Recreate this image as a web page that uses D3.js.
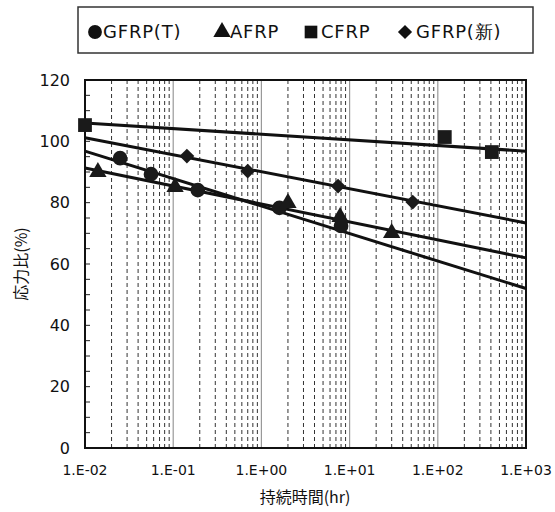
<!DOCTYPE html>
<html>
<head>
<meta charset="utf-8">
<script src="https://d3js.org/d3.v7.min.js"></script>
<style>
  body { margin: 0; background: #fff; }
  text { font-family: "DejaVu Sans", Arial, sans-serif; fill: #111; }
  .jp { font-family: "Noto Sans CJK JP", sans-serif; }
</style>
</head>
<body>
<script>
// ---- data ----
var seriesNames = ["GFRP(T)", "AFRP", "CFRP", "GFRP(新)"];
// diamond = square turned 45 degrees
var seriesSymbols = [d3.symbolCircle, d3.symbolTriangle, d3.symbolSquare, d3.symbolSquare];
var seriesRotate = [0, 0, 0, 45];

var gfrpTx = [0.025, 0.056, 0.19, 1.6, 8.0];
var gfrpTy = [94.5, 89.3, 84.1, 78.3, 72.4];
var afrpX = [0.014, 0.105, 2.0, 7.8, 30];
var afrpY = [90.0, 85.1, 79.9, 75.3, 70.1];
var cfrpX = [0.01, 120, 410];
var cfrpY = [105.3, 101.4, 96.5];
var gfrpNx = [0.143, 0.7, 7.4, 52];
var gfrpNy = [95.2, 90.3, 85.4, 80.2];

// trend lines: value at 1e-2 and at 1e3
var trendX = [0.01, 1000];
var gfrpTtrend = [96.8, 52.0];
var afrpTrend = [91.3, 62.0];
var cfrpTrend = [106.0, 96.8];
var gfrpNtrend = [101.2, 73.4];

var xTicks = [0.01, 0.1, 1, 10, 100, 1000];
var xTickLabels = ["1.E-02", "1.E-01", "1.E+00", "1.E+01", "1.E+02", "1.E+03"];
var yTicks = [0, 20, 40, 60, 80, 100, 120];

var w = 555, h = 512;
var pL = 85, pR = 526, pT = 80, pB = 448; // plot box

var x = d3.scaleLog().domain([0.01, 1000]).range([pL, pR]);
var y = d3.scaleLinear().domain([0, 120]).range([pB, pT]);

var svg = d3.select("body").append("svg")
    .attr("width", w).attr("height", h);

// vertical grid: minor dashed, decade lines grey
var minor = [];
for (var e = -2; e < 3; e++) {
    for (var k = 2; k <= 9; k++) minor.push(k * Math.pow(10, e));
}
svg.append("g").selectAll("line").data(minor).enter().append("line")
    .attr("x1", function (d) { return x(d); })
    .attr("x2", function (d) { return x(d); })
    .attr("y1", pT).attr("y2", pB)
    .attr("stroke", "#333").attr("stroke-width", 1)
    .attr("stroke-dasharray", "4,3");
svg.append("g").selectAll("line").data(xTicks.slice(1, -1)).enter().append("line")
    .attr("x1", function (d) { return x(d); })
    .attr("x2", function (d) { return x(d); })
    .attr("y1", pT).attr("y2", pB)
    .attr("stroke", "#999").attr("stroke-width", 1.2);

// y minor ticks (inward)
svg.append("g").selectAll("line").data(d3.range(0, 121, 5)).enter().append("line")
    .attr("x1", pL).attr("x2", pL + 5)
    .attr("y1", function (d) { return y(d); })
    .attr("y2", function (d) { return y(d); })
    .attr("stroke", "#222").attr("stroke-width", 1);

// frame
svg.append("rect")
    .attr("x", pL).attr("y", pT)
    .attr("width", pR - pL).attr("height", pB - pT)
    .attr("fill", "none").attr("stroke", "#111").attr("stroke-width", 2);

// y tick labels
svg.append("g").selectAll("text").data(yTicks).enter().append("text")
    .attr("x", 70).attr("y", function (d) { return y(d); })
    .attr("dy", "0.36em").attr("text-anchor", "end")
    .attr("font-size", 16).text(function (d) { return d; });

// x tick labels
svg.append("g").selectAll("text").data(xTicks).enter().append("text")
    .attr("x", function (d) { return x(d); }).attr("y", 475)
    .attr("text-anchor", "middle").attr("font-size", 14)
    .text(function (d, i) { return xTickLabels[i]; });

// axis titles
svg.append("text").attr("class", "jp")
    .attr("x", 305).attr("y", 503).attr("text-anchor", "middle")
    .attr("font-size", 16).text("持続時間(hr)");
svg.append("text").attr("class", "jp")
    .attr("transform", "translate(27,264) rotate(-90)")
    .attr("text-anchor", "middle").attr("font-size", 16).text("応力比(%)");

// trend lines
var trends = [gfrpTtrend, afrpTrend, cfrpTrend, gfrpNtrend];
var line = d3.line()
    .x(function (d) { return x(d[0]); })
    .y(function (d) { return y(d[1]); });
trends.forEach(function (t) {
    svg.append("path")
        .attr("d", line(trendX.map(function (xv, i) { return [xv, t[i]]; })))
        .attr("fill", "none").attr("stroke", "#111").attr("stroke-width", 3);
});

// markers
var series = [[gfrpTx, gfrpTy], [afrpX, afrpY], [cfrpX, cfrpY], [gfrpNx, gfrpNy]];
var sizes = [170, 130, 190, 110];
series.forEach(function (s, si) {
    var pts = s[0].map(function (xv, i) { return [xv, s[1][i]]; });
    svg.append("g").selectAll("path").data(pts).enter().append("path")
        .attr("transform", function (d) {
            return "translate(" + x(d[0]) + "," + y(d[1]) + ") rotate(" + seriesRotate[si] + ")";
        })
        .attr("d", d3.symbol().type(seriesSymbols[si]).size(sizes[si]))
        .attr("fill", "#1a1a1a");
});

// legend
svg.append("rect")
    .attr("x", 78).attr("y", 7).attr("width", 455).attr("height", 46)
    .attr("fill", "#fff").attr("stroke", "#333").attr("stroke-width", 1.5);
var legX = [95, 222, 311, 405];
var legTextX = [103, 230, 321, 416];
var legSizes = [150, 130, 160, 100];
seriesNames.forEach(function (n, i) {
    svg.append("path")
        .attr("transform", "translate(" + legX[i] + ",32) rotate(" + seriesRotate[i] + ")")
        .attr("d", d3.symbol().type(seriesSymbols[i]).size(legSizes[i]))
        .attr("fill", "#111");
    svg.append("text")
        .attr("x", legTextX[i]).attr("y", 32).attr("dy", "0.36em")
        .attr("font-size", 18).attr("letter-spacing", 0.8).text(n);
});
</script>
</body>
</html>
